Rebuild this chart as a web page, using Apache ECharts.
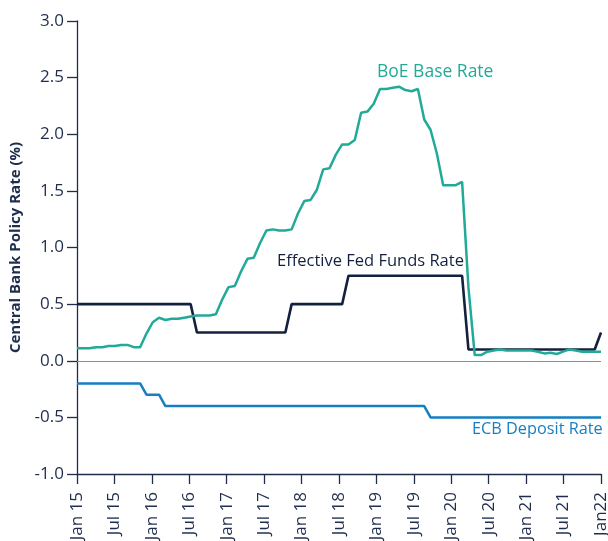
<!DOCTYPE html>
<html>
<head>
<meta charset="utf-8">
<script src="https://cdn.jsdelivr.net/npm/echarts@6/dist/echarts.min.js"></script>
<style>
  html, body { margin: 0; padding: 0; background: #ffffff; }
  #chart { width: 608px; height: 541px; }
</style>
</head>
<body>
<div id="chart"></div>
<script>
// Monthly observations, Jan 2015 - Dec 2021
var months = [
  "Jan 15","Feb 15","Mar 15","Apr 15","May 15","Jun 15","Jul 15","Aug 15","Sep 15","Oct 15","Nov 15","Dec 15",
  "Jan 16","Feb 16","Mar 16","Apr 16","May 16","Jun 16","Jul 16","Aug 16","Sep 16","Oct 16","Nov 16","Dec 16",
  "Jan 17","Feb 17","Mar 17","Apr 17","May 17","Jun 17","Jul 17","Aug 17","Sep 17","Oct 17","Nov 17","Dec 17",
  "Jan 18","Feb 18","Mar 18","Apr 18","May 18","Jun 18","Jul 18","Aug 18","Sep 18","Oct 18","Nov 18","Dec 18",
  "Jan 19","Feb 19","Mar 19","Apr 19","May 19","Jun 19","Jul 19","Aug 19","Sep 19","Oct 19","Nov 19","Dec 19",
  "Jan 20","Feb 20","Mar 20","Apr 20","May 20","Jun 20","Jul 20","Aug 20","Sep 20","Oct 20","Nov 20","Dec 20",
  "Jan 21","Feb 21","Mar 21","Apr 21","May 21","Jun 21","Jul 21","Aug 21","Sep 21","Oct 21","Nov 21","Dec 21"
];

// Tick labels shown on the x axis (every six months)
var tickLabels = ["Jan 15","Jul 15","Jan 16","Jul 16","Jan 17","Jul 17","Jan 18","Jul 18",
                  "Jan 19","Jul 19","Jan 20","Jul 20","Jan 21","Jul 21","Jan22"];

var boeBase = [
  0.11,0.11,0.11,0.12,0.12,0.13,0.13,0.14,0.14,0.12,0.12,0.24,
  0.34,0.38,0.36,0.37,0.37,0.38,0.39,0.40,0.40,0.40,0.41,0.54,
  0.65,0.66,0.79,0.90,0.91,1.04,1.15,1.16,1.15,1.15,1.16,1.30,
  1.41,1.42,1.51,1.69,1.70,1.82,1.91,1.91,1.95,2.19,2.20,2.27,
  2.40,2.40,2.41,2.42,2.39,2.38,2.40,2.13,2.04,1.83,1.55,1.55,
  1.55,1.58,0.65,0.05,0.05,0.08,0.09,0.10,0.09,0.09,0.09,0.09,
  0.09,0.08,0.065,0.07,0.06,0.08,0.10,0.09,0.08,0.08,0.08,0.08
];

var fedFunds = [
  0.50,0.50,0.50,0.50,0.50,0.50,0.50,0.50,0.50,0.50,0.50,0.50,
  0.50,0.50,0.50,0.50,0.50,0.50,0.50,0.25,0.25,0.25,0.25,0.25,
  0.25,0.25,0.25,0.25,0.25,0.25,0.25,0.25,0.25,0.25,0.50,0.50,
  0.50,0.50,0.50,0.50,0.50,0.50,0.50,0.75,0.75,0.75,0.75,0.75,
  0.75,0.75,0.75,0.75,0.75,0.75,0.75,0.75,0.75,0.75,0.75,0.75,
  0.75,0.75,0.10,0.10,0.10,0.10,0.10,0.10,0.10,0.10,0.10,0.10,
  0.10,0.10,0.10,0.10,0.10,0.10,0.10,0.10,0.10,0.10,0.10,0.25
];

var ecbDeposit = [
  -0.20,-0.20,-0.20,-0.20,-0.20,-0.20,-0.20,-0.20,-0.20,-0.20,-0.20,-0.30,
  -0.30,-0.30,-0.40,-0.40,-0.40,-0.40,-0.40,-0.40,-0.40,-0.40,-0.40,-0.40,
  -0.40,-0.40,-0.40,-0.40,-0.40,-0.40,-0.40,-0.40,-0.40,-0.40,-0.40,-0.40,
  -0.40,-0.40,-0.40,-0.40,-0.40,-0.40,-0.40,-0.40,-0.40,-0.40,-0.40,-0.40,
  -0.40,-0.40,-0.40,-0.40,-0.40,-0.40,-0.40,-0.40,-0.50,-0.50,-0.50,-0.50,
  -0.50,-0.50,-0.50,-0.50,-0.50,-0.50,-0.50,-0.50,-0.50,-0.50,-0.50,-0.50,
  -0.50,-0.50,-0.50,-0.50,-0.50,-0.50,-0.50,-0.50,-0.50,-0.50,-0.50,-0.50
];

var seriesNames = ["BoE Base Rate", "Effective Fed Funds Rate", "ECB Deposit Rate"];

var NAVY = '#13213f';
var TEAL = '#22aa98';
var BLUE = '#167fc2';
var AXIS = '#1f2d4d';
var FONT = '"Open Sans", "Noto Sans", sans-serif';

var chart = echarts.init(document.getElementById('chart'), null, { renderer: 'canvas' });

var option = {
  animation: false,
  backgroundColor: '#ffffff',
  grid: { left: 77, right: 7, top: 21, bottom: 67, outerBoundsMode: 'none' },
  xAxis: [
    {
      type: 'category',
      data: months,
      boundaryGap: false,
      position: 'bottom',
      axisLine: { show: true, onZero: false, lineStyle: { color: AXIS, width: 1.3 } },
      axisTick: { show: false },
      axisLabel: { show: false },
      splitLine: { show: false }
    },
    {
      type: 'category',
      data: tickLabels,
      boundaryGap: false,
      position: 'bottom',
      axisLine: { show: false, onZero: false },
      axisTick: { show: true, interval: 0, length: 10, lineStyle: { color: AXIS, width: 1.3 } },
      axisLabel: {
        show: true, interval: 0, rotate: 90, margin: 18,
        color: AXIS, fontSize: 17, fontFamily: FONT
      },
      splitLine: { show: false }
    }
  ],
  yAxis: {
    type: 'value',
    min: -1, max: 3, interval: 0.5,
    name: 'Central Bank Policy Rate (%)',
    nameLocation: 'middle',
    nameGap: 46,
    nameTextStyle: { color: AXIS, fontSize: 15, fontWeight: 'bold', fontFamily: FONT },
    axisLine: { show: true, lineStyle: { color: AXIS, width: 1.3 } },
    axisTick: { show: true, length: 10, lineStyle: { color: AXIS, width: 1.3 } },
    axisLabel: {
      margin: 13, color: AXIS, fontSize: 17, fontFamily: FONT,
      formatter: function (v) { return v.toFixed(1); }
    },
    splitLine: { show: false }
  },
  series: [
    {
      name: seriesNames[2],
      type: 'line',
      data: ecbDeposit,
      showSymbol: false,
      lineStyle: { color: BLUE, width: 2.5 },
      itemStyle: { color: BLUE },
      markLine: {
        silent: true,
        symbol: 'none',
        label: { show: false },
        lineStyle: { color: '#8790a2', width: 1.2, type: 'solid' },
        data: [{ yAxis: 0 }]
      }
    },
    {
      name: seriesNames[1],
      type: 'line',
      data: fedFunds,
      showSymbol: false,
      lineStyle: { color: NAVY, width: 2.6 },
      itemStyle: { color: NAVY }
    },
    {
      name: seriesNames[0],
      type: 'line',
      data: boeBase,
      showSymbol: false,
      lineStyle: { color: TEAL, width: 2.5 },
      itemStyle: { color: TEAL }
    }
  ],
  graphic: [
    { type: 'text', left: 377, top: 63,
      style: { text: seriesNames[0], fill: TEAL, font: '17.5px ' + FONT } },
    { type: 'text', left: 277, top: 253,
      style: { text: seriesNames[1], fill: NAVY, font: '16.5px ' + FONT } },
    { type: 'text', left: 472, top: 421,
      style: { text: seriesNames[2], fill: BLUE, font: '16.3px ' + FONT } }
  ]
};

chart.setOption(option);
</script>
</body>
</html>
